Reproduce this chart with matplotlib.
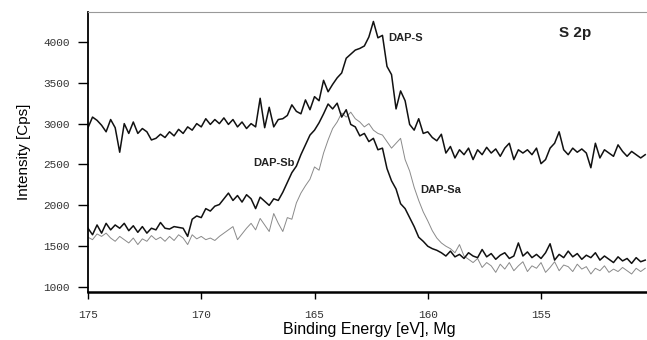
import numpy as np
import matplotlib
matplotlib.use("Agg")
import matplotlib.pyplot as plt

# binding energy grid, 0.2 eV steps from 175.0 down to 150.4
energy = np.round(np.arange(175.0, 150.3, -0.2), 1)

dap_s = [
    2950, 3080, 3040, 2980, 2900, 3050, 2950, 2650, 3000, 2880,
    3020, 2880, 2940, 2900, 2800, 2820, 2870, 2830, 2900, 2850,
    2930, 2880, 2960, 2920, 3000, 2960, 3060, 2990, 3050, 3000,
    3070,
    2990, 3050, 2960, 3020, 2940, 3000, 2960, 3310, 2950, 3200,
    2960, 3050, 3060, 3100, 3230, 3150, 3120, 3290, 3170, 3330,
    3280, 3530, 3390, 3480, 3560, 3620, 3800, 3850, 3900, 3920,
    3950, 4060, 4250, 4050, 4080,
    3700, 3600, 3180, 3400, 3280, 2990, 2920, 3060, 2880, 2900,
    2830, 2790,
    2870, 2640, 2720, 2580, 2680, 2620, 2700, 2560, 2680, 2620,
    2710, 2640, 2690, 2600, 2700, 2760, 2560, 2680, 2640, 2680,
    2620, 2700, 2510, 2560, 2700, 2760, 2900, 2680, 2620, 2700,
    2650, 2690, 2640, 2460, 2760, 2580, 2680, 2640, 2600, 2740,
    2660, 2600, 2660, 2620, 2580, 2620,
]

dap_sb = [
    1720, 1640, 1760, 1660, 1780, 1700, 1760, 1720, 1780, 1690,
    1750, 1670, 1740, 1660, 1720, 1700, 1790, 1720, 1710, 1740,
    1730, 1720, 1620, 1830, 1870, 1850, 1960, 1930, 1990, 2010,
    2080,
    2150, 2060, 2120, 2040, 2130, 2080, 1960, 2100, 2050, 2000,
    2080, 2060, 2160, 2280, 2400, 2480, 2620, 2740, 2860, 2920,
    3010, 3120, 3240, 3180, 3250, 3080, 3170, 2990, 2960, 2850,
    2880, 2780, 2820, 2680, 2700,
    2450, 2300, 2200, 2020, 1960, 1850, 1740, 1610, 1560, 1500,
    1470, 1450,
    1420, 1380, 1440, 1370, 1400, 1350, 1420, 1380, 1360, 1460,
    1370, 1410, 1340, 1390, 1420, 1350, 1380, 1540, 1380, 1430,
    1360, 1400, 1350, 1420, 1530, 1330, 1400, 1360, 1440, 1370,
    1410, 1340, 1390, 1360, 1420, 1330, 1380, 1340, 1300, 1370,
    1320, 1350, 1290, 1360, 1310, 1330,
]

dap_sa = [
    1610, 1580, 1650, 1620, 1660, 1600, 1560, 1620, 1580, 1540,
    1600, 1520, 1590, 1560, 1630, 1580, 1610, 1560, 1620, 1570,
    1640, 1600, 1520, 1640, 1590, 1620, 1580, 1600, 1570, 1620,
    1660,
    1700, 1740, 1580, 1650, 1720, 1780, 1700, 1840, 1760, 1680,
    1900, 1780, 1680, 1850, 1830, 2030, 2150, 2240, 2320, 2470,
    2430, 2640, 2800, 2940, 3020, 3130, 3080, 3140, 3060, 3020,
    2960, 3000, 2920, 2880, 2860,
    2780, 2700, 2760, 2820, 2560, 2420, 2220, 2060, 1920, 1810,
    1690, 1600,
    1540, 1500, 1470, 1420, 1520, 1380, 1340, 1300, 1350, 1240,
    1300, 1260, 1180, 1280, 1220, 1300, 1200, 1260, 1310, 1190,
    1260, 1230, 1300, 1180, 1240, 1310, 1200, 1270, 1250, 1190,
    1280, 1220, 1250, 1160, 1230, 1200, 1260, 1180, 1220, 1190,
    1240, 1200, 1160, 1230, 1190, 1230,
]

y_ticks = [1000, 1500, 2000, 2500, 3000, 3500, 4000]
x_ticks = [175, 170, 165, 160, 155]

fig = plt.figure(figsize=(6.47, 3.40), dpi=100)
ax = fig.add_axes([0.136, 0.141, 0.87, 0.824])

ax.plot(energy, dap_sa, color="#8a8a8a", lw=0.7)
ax.plot(energy, dap_sb, color="#111111", lw=1.1)
ax.plot(energy, dap_s, color="#111111", lw=1.1)

ax.set_xlim(175, 150.15)
ax.set_ylim(939, 4367)
ax.set_xticks(x_ticks)
ax.set_yticks(y_ticks)

tick_font = {"family": "Liberation Mono", "size": 8}
ax.set_xticklabels([str(t) for t in x_ticks], fontdict=tick_font, color="#333333")
ax.set_yticklabels([str(t) for t in y_ticks], fontdict=tick_font, color="#333333")
ax.tick_params(axis="x", direction="out", length=5, width=1.0, pad=8)
ax.tick_params(axis="y", direction="out", length=7, width=1.0, pad=6)

ax.spines["right"].set_visible(False)
ax.spines["top"].set_color("#999999")
ax.spines["top"].set_linewidth(0.8)
ax.spines["left"].set_linewidth(1.3)
ax.spines["bottom"].set_linewidth(1.8)

ax.set_xlabel("Binding Energy [eV], Mg", family="Liberation Sans", fontsize=11.5, labelpad=1)
ax.set_ylabel("Intensity [Cps]", family="Liberation Sans", fontsize=11, labelpad=9)

label_kw = dict(family="Liberation Sans", fontsize=8, fontweight="bold", color="#222222",
                ha="left", va="center")
ax.text(161.75, 4050, "DAP-S", **label_kw)
ax.text(167.7, 2520, "DAP-Sb", **label_kw)
ax.text(160.35, 2190, "DAP-Sa", **label_kw)
ax.text(154.2, 4110, "S 2p", family="Liberation Sans", fontsize=11, fontweight="bold",
        color="#222222", ha="left", va="center")

fig.savefig("out.png", dpi=100)
